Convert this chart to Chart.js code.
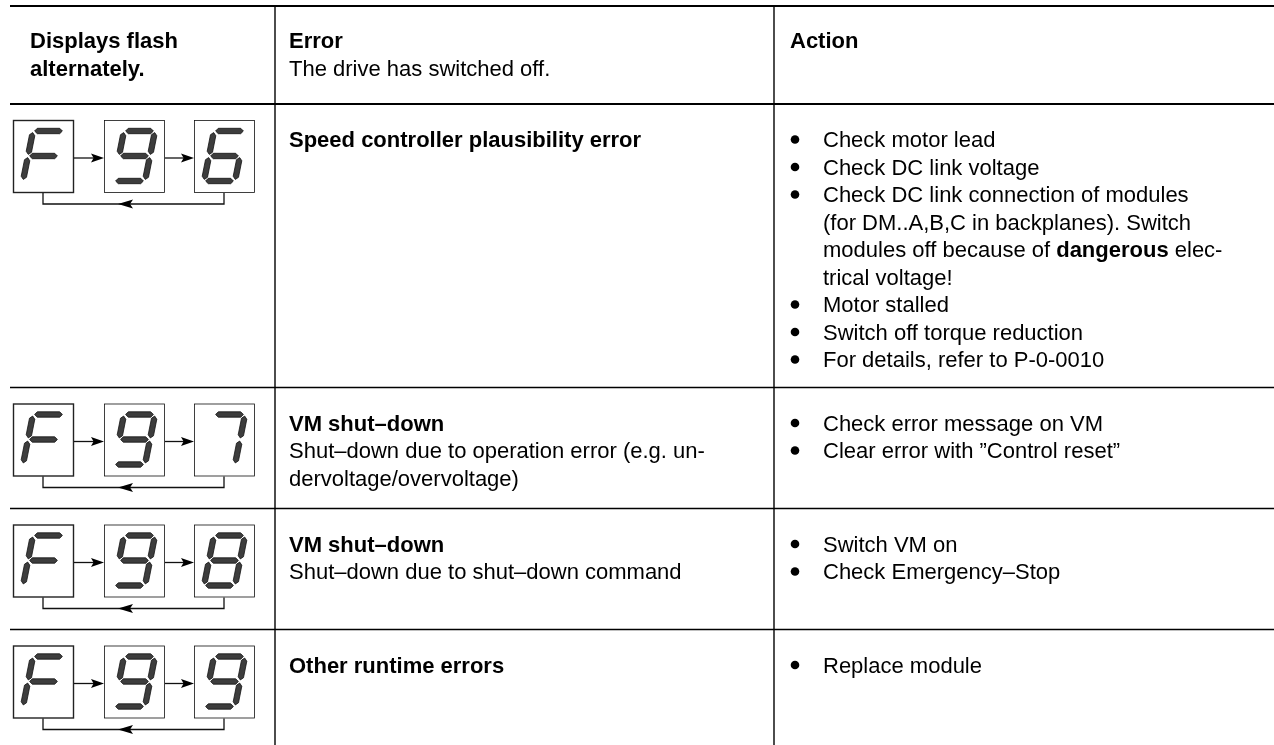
<!DOCTYPE html>
<html>
<head>
<meta charset="utf-8">
<script src="https://cdn.jsdelivr.net/npm/chart.js@4.4.1/dist/chart.umd.min.js"></script>
<style>
html, body { margin: 0; padding: 0; background: #fff; }
#wrap { width: 1274px; height: 745px; }
</style>
</head>
<body>
<div id="wrap"><canvas id="myChart" width="1274" height="745"></canvas></div>
<script>
// table content (** marks bold runs)
const headDisplay = ['**Displays flash**', '**alternately.**'];
const headError = ['**Error**', 'The drive has switched off.'];
const headAction = ['**Action**'];
const codes = ['F96', 'F97', 'F98', 'F99'];
const errorText = [
  ['**Speed controller plausibility error**'],
  ['**VM shut–down**', 'Shut–down due to operation error (e.g. un-', 'dervoltage/overvoltage)'],
  ['**VM shut–down**', 'Shut–down due to shut–down command'],
  ['**Other runtime errors**']
];
const actions = [
  [['Check motor lead'], ['Check DC link voltage'],
   ['Check DC link connection of modules', '(for DM..A,B,C in backplanes). Switch',
    'modules off because of **dangerous** elec-', 'trical voltage!'],
   ['Motor stalled'], ['Switch off torque reduction'], ['For details, refer to P-0-0010']],
  [['Check error message on VM'], ['Clear error with ”Control reset”']],
  [['Switch VM on'], ['Check Emergency–Stop']],
  [['Replace module']]
];
// seven segment patterns
const segPatterns = { F: 'aefg', '6': 'acdefg', '7': 'abc', '8': 'abcdefg', '9': 'abcdfg' };

// layout
const W = 1274, H = 745;
const colX = [10, 275, 774, W];
const textX = [30, 289, 823];
const bulletX = 795;
const headTop = 6, headBottom = 104;
const fontSize = 22, lineH = 27.5, firstBase = 43;
const boxX = [13, 104, 194], boxW = 60, boxH = 72;
const FONT = '"Liberation Sans", Arial, Helvetica, sans-serif';

function drawRich(ctx, str, x, y) {
  let cx = x;
  str.split('**').forEach((p, i) => {
    ctx.font = (i % 2 ? 'bold ' : '') + fontSize + 'px ' + FONT;
    ctx.fillText(p, cx, y);
    cx += ctx.measureText(p).width;
  });
}

function segPoly(ctx, p, q, t, gap) {
  const dx = q[0] - p[0], dy = q[1] - p[1], len = Math.hypot(dx, dy);
  const ux = dx / len, uy = dy / len, nx = -uy, ny = ux;
  const a = [p[0] + ux * gap, p[1] + uy * gap], b = [q[0] - ux * gap, q[1] - uy * gap];
  ctx.beginPath();
  ctx.moveTo(a[0], a[1]);
  ctx.lineTo(a[0] + ux * t + nx * t, a[1] + uy * t + ny * t);
  ctx.lineTo(b[0] - ux * t + nx * t, b[1] - uy * t + ny * t);
  ctx.lineTo(b[0], b[1]);
  ctx.lineTo(b[0] - ux * t - nx * t, b[1] - uy * t - ny * t);
  ctx.lineTo(a[0] + ux * t - nx * t, a[1] + uy * t - ny * t);
  ctx.closePath();
  ctx.fill();
  ctx.stroke();
}

function drawDigit(ctx, ch, bx, by) {
  const x0 = 15, x1 = 46, y0 = 11, ym = 36, y1 = 61, slant = 0.2;
  const P = (x, y) => [bx + x + (ym - y) * slant, by + y];
  const ends = {
    a: [P(x0, y0), P(x1, y0)], b: [P(x1, y0), P(x1, ym)], c: [P(x1, ym), P(x1, y1)],
    d: [P(x0, y1), P(x1, y1)], e: [P(x0, ym), P(x0, y1)], f: [P(x0, y0), P(x0, ym)],
    g: [P(x0, ym), P(x1, ym)]
  };
  ctx.fillStyle = '#3d3d3d';
  ctx.strokeStyle = '#111';
  ctx.lineWidth = 0.8;
  for (const s of segPatterns[ch]) segPoly(ctx, ends[s][0], ends[s][1], 2.7, 1.6);
}

function arrowHead(ctx, tipX, tipY, dir, len, half) {
  ctx.beginPath();
  ctx.moveTo(tipX, tipY);
  ctx.lineTo(tipX - dir * len, tipY - half);
  ctx.lineTo(tipX - dir * len * 0.8, tipY);
  ctx.lineTo(tipX - dir * len, tipY + half);
  ctx.closePath();
  ctx.fill();
}

const tablePlugin = {
  id: 'table',
  beforeDraw(chart) {
    const ctx = chart.ctx;
    ctx.save();
    ctx.fillStyle = '#fff';
    ctx.fillRect(0, 0, chart.width, chart.height);
    ctx.restore();
  },
  afterDraw(chart) {
    const ctx = chart.ctx, xs = chart.scales.x, ys = chart.scales.y;
    const X = v => xs.getPixelForValue(v), Y = v => ys.getPixelForValue(v);
    ctx.save();
    ctx.textBaseline = 'alphabetic';
    ctx.fillStyle = '#000';

    // header
    headDisplay.forEach((s, i) => drawRich(ctx, s, X(textX[0]), Y(headTop + 42 + i * lineH)));
    headError.forEach((s, i) => drawRich(ctx, s, X(textX[1]), Y(headTop + 42 + i * lineH)));
    headAction.forEach((s, i) => drawRich(ctx, s, X(textX[2] - 33), Y(headTop + 42 + i * lineH)));

    // rows
    let top = headBottom;
    const rowLines = [];
    codes.forEach((code, r) => {
      const nAct = actions[r].reduce((n, it) => n + it.length, 0);
      const n = Math.max(nAct, errorText[r].length);
      const h = Math.max(121, n * lineH + 36);

      ctx.fillStyle = '#000';
      errorText[r].forEach((s, i) => drawRich(ctx, s, X(textX[1]), Y(top + firstBase + i * lineH)));
      let li = 0;
      actions[r].forEach(item => {
        const base = top + firstBase + li * lineH;
        ctx.beginPath();
        ctx.arc(X(bulletX), Y(base - 7.5), 4.3, 0, Math.PI * 2);
        ctx.fill();
        item.forEach(s => { drawRich(ctx, s, X(textX[2]), Y(top + firstBase + li * lineH)); li++; });
      });

      // display boxes
      const by = top + 16;
      ctx.strokeStyle = '#222';
      ctx.lineWidth = 1.4;
      [...code].forEach((ch, k) => {
        ctx.strokeRect(X(boxX[k]) + 0.5, Y(by) + 0.5, boxW, boxH);
        drawDigit(ctx, ch, X(boxX[k]), Y(by));
      });
      ctx.strokeStyle = '#111';
      ctx.fillStyle = '#000';
      ctx.lineWidth = 1.3;
      const midY = Y(by + boxH / 2 + 2);
      for (let k = 0; k < 2; k++) {
        ctx.beginPath();
        ctx.moveTo(X(boxX[k] + boxW) + 1, midY);
        ctx.lineTo(X(boxX[k + 1]) - 6, midY);
        ctx.stroke();
        arrowHead(ctx, X(boxX[k + 1]), midY, 1, 13, 4.5);
      }
      const loopY = Y(by + boxH + 12);
      const lx = X(boxX[0] + boxW / 2), rx = X(boxX[2] + boxW / 2);
      ctx.beginPath();
      ctx.moveTo(lx, Y(by + boxH) + 1);
      ctx.lineTo(lx, loopY);
      ctx.lineTo(rx, loopY);
      ctx.lineTo(rx, Y(by + boxH) + 1);
      ctx.stroke();
      arrowHead(ctx, X(118), loopY, -1, 15, 4.5);

      top += h;
      rowLines.push(top);
    });

    // rules
    ctx.strokeStyle = '#000';
    ctx.lineWidth = 2.2;
    [headTop, headBottom].forEach(y => {
      ctx.beginPath(); ctx.moveTo(X(colX[0]), Y(y)); ctx.lineTo(X(W), Y(y)); ctx.stroke();
    });
    ctx.lineWidth = 1.4;
    rowLines.slice(0, -1).forEach(y => {
      ctx.beginPath(); ctx.moveTo(X(colX[0]), Y(y)); ctx.lineTo(X(W), Y(y)); ctx.stroke();
    });
    [colX[1], colX[2]].forEach(x => {
      ctx.beginPath(); ctx.moveTo(X(x), Y(headTop)); ctx.lineTo(X(x), Y(H)); ctx.stroke();
    });
    ctx.restore();
  }
};

new Chart(document.getElementById('myChart'), {
  type: 'scatter',
  data: { datasets: [] },
  options: {
    responsive: false,
    animation: false,
    layout: { padding: 0 },
    plugins: { legend: { display: false }, tooltip: { enabled: false } },
    scales: {
      x: { type: 'linear', min: 0, max: W, display: false },
      y: { type: 'linear', min: 0, max: H, reverse: true, display: false }
    }
  },
  plugins: [tablePlugin]
});
</script>
</body>
</html>
